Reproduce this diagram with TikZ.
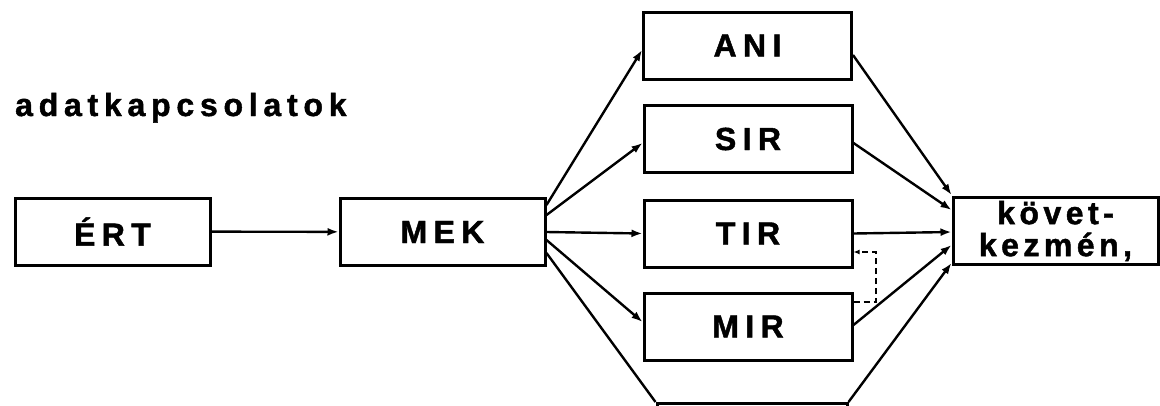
\documentclass[tikz,border=0pt]{standalone}
\usepackage{fontspec}
\setmainfont{Liberation Sans}
\newfontfamily\dobozfont[LetterSpace=20,FakeBold=1.4]{Liberation Sans Bold}
\newfontfamily\kovfont[LetterSpace=14,FakeBold=1.4]{Liberation Sans Bold}
\newfontfamily\cimfont[LetterSpace=18,FakeBold=1.4]{Liberation Sans Bold}
\usetikzlibrary{arrows.meta,calc}

\tikzset{
  doboz/.style={draw, line width=3pt, minimum width=208pt, minimum height=67pt,
    inner sep=0pt, align=center, font=\dobozfont\fontsize{32}{32}\selectfont},
  nyil/.style={line width=2.4pt, -{Latex[length=11pt,width=8pt]}},
  vonal/.style={line width=2.4pt},
}

\begin{document}
\begin{tikzpicture}[x=1pt,y=-1pt]
\clip (0,0) rectangle (1160,405);
\useasboundingbox (0,0) rectangle (1160,405);
\node[anchor=base west, inner sep=0pt, font=\cimfont\fontsize{32}{32}\selectfont] (cim) at (15,116) {adatkapcsolatok};
\node[doboz, minimum width=195pt] (ert) at (112.5,231.5) {ÉRT};
\node[doboz, minimum width=205pt] (mek) at (442.5,232) {MEK};
\node[doboz] (ani) at (747.5,45.5) {ANI};
\node[doboz] (sir) at (748,139) {SIR};
\node[doboz] (tir) at (748,233.5) {TIR};
\node[doboz] (mir) at (748,326.5) {MIR};
\node[doboz, minimum width=190pt, anchor=north] (also) at (752,402) {};
\node[doboz, minimum width=205pt, font=\kovfont\fontsize{32}{32}\selectfont] (kov) at (1055.5,231) {követ-\\kezmén,};
\draw[nyil] (ert) -- (mek);
\draw[nyil] ($(mek.east)+(0,-27)$) -- ($(ani.west)+(0,4.5)$);
\draw[nyil] ($(mek.east)+(0,-17)$) -- ($(sir.west)+(0,4)$);
\draw[nyil] (mek.east) -- (tir.west);
\draw[nyil] ($(mek.east)+(0,8)$) -- ($(mir.west)+(0,-4.5)$);
\draw[vonal] ($(mek.east)+(0,21)$) -- (also.north west);
\draw[nyil] ($(ani.east)+(0,9.5)$) -- ($(kov.west)+(0,-36)$);
\draw[nyil] ($(sir.east)+(0,4)$) -- ($(kov.west)+(0,-21)$);
\draw[nyil] (tir.east) -- ($(kov.west)+(0,1)$);
\draw[nyil] ($(mir.east)+(0,-1.5)$) -- ($(kov.west)+(0,14)$);
\draw[nyil] (also.north east) -- ($(kov.west)+(0,32)$);
\draw[line width=2pt, dashed, dash pattern=on 6pt off 4pt, -{Latex[length=6pt,width=5pt]}] ($(mir.east)+(0,-24.5)$) -| ($(tir.east)+(22,18.5)$) -- ($(tir.east)+(0,18.5)$);
\end{tikzpicture}
\end{document}
